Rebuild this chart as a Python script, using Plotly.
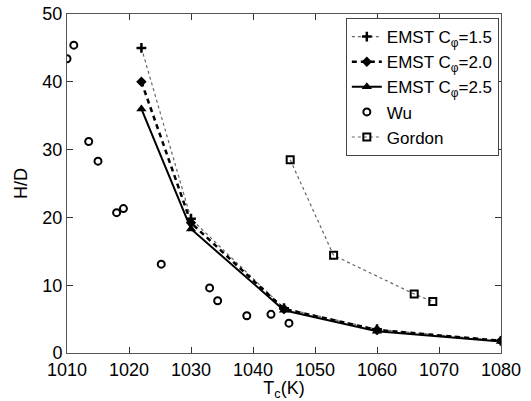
import plotly.graph_objects as go

emst_x = [1022, 1030, 1045, 1060, 1080]
emst15_y = [45.0, 19.8, 6.6, 3.5, 1.8]
emst20_y = [40.0, 19.2, 6.5, 3.4, 1.8]
emst25_y = [36.0, 18.3, 6.3, 3.2, 1.7]

wu_x = [1010.0, 1011.1, 1013.5, 1015.0, 1018.0, 1019.1, 1025.2, 1033.0, 1034.3, 1039.0, 1042.9, 1045.8]
wu_y = [43.4, 45.4, 31.2, 28.3, 20.7, 21.3, 13.1, 9.6, 7.7, 5.5, 5.7, 4.4]

gordon_x = [1046.0, 1053.0, 1066.0, 1069.0]
gordon_y = [28.5, 14.4, 8.7, 7.6]

x_ticks = [1010, 1020, 1030, 1040, 1050, 1060, 1070, 1080]
y_ticks = [0, 10, 20, 30, 40, 50]

FONT = "Liberation Sans, Arial"

fig = go.Figure()
fig.add_trace(go.Scatter(x=emst_x, y=emst15_y, mode="lines+markers",
                         name="EMST C<sub>φ</sub>=1.5",
                         line=dict(color="#666666", width=1.2, dash="dot"),
                         marker=dict(symbol="cross-thin-open", size=7, color="black",
                                     line=dict(width=2.5, color="black"))))
fig.add_trace(go.Scatter(x=emst_x, y=emst20_y, mode="lines+markers",
                         name="EMST C<sub>φ</sub>=2.0",
                         line=dict(color="black", width=2.5, dash="5px,4px"),
                         marker=dict(symbol="diamond", size=8, color="black")))
fig.add_trace(go.Scatter(x=emst_x, y=emst25_y, mode="lines+markers",
                         name="EMST C<sub>φ</sub>=2.5",
                         line=dict(color="black", width=2),
                         marker=dict(symbol="triangle-up", size=9, color="black")))
fig.add_trace(go.Scatter(x=wu_x, y=wu_y, mode="markers", name="Wu",
                         marker=dict(symbol="circle-open", size=7, color="black",
                                     line=dict(width=2, color="black"))))
fig.add_trace(go.Scatter(x=gordon_x, y=gordon_y, mode="lines+markers", name="Gordon",
                         line=dict(color="#666666", width=1.2, dash="dot"),
                         marker=dict(symbol="square-open", size=7, color="black",
                                     line=dict(width=2, color="black"))))

axis_common = dict(showgrid=False, zeroline=False, showline=True, linecolor="#555555",
                   linewidth=1, mirror="ticks", ticks="inside", ticklen=6,
                   tickcolor="#333333", automargin=False,
                   tickfont=dict(family=FONT, size=18, color="black"))

fig.update_xaxes(range=[1010, 1080], tickvals=x_ticks,
                 title=dict(text="T<sub>c</sub>(K)", standoff=2,
                            font=dict(family=FONT, size=18, color="black")),
                 **axis_common)
fig.update_yaxes(range=[0, 50], tickvals=y_ticks,
                 title=dict(text="H/D", standoff=10,
                            font=dict(family=FONT, size=18, color="black")),
                 **axis_common)

fig.update_layout(
    width=531, height=401,
    margin=dict(l=67, r=30, t=14, b=48),
    plot_bgcolor="white", paper_bgcolor="white",
    font=dict(family=FONT, size=18, color="black"),
    legend=dict(x=0.995, y=0.988, xanchor="right", yanchor="top",
                bgcolor="white", bordercolor="#444444", borderwidth=1,
                font=dict(size=17), tracegroupgap=0, itemwidth=30),
    showlegend=True,
)

fig.write_html("out.html")
